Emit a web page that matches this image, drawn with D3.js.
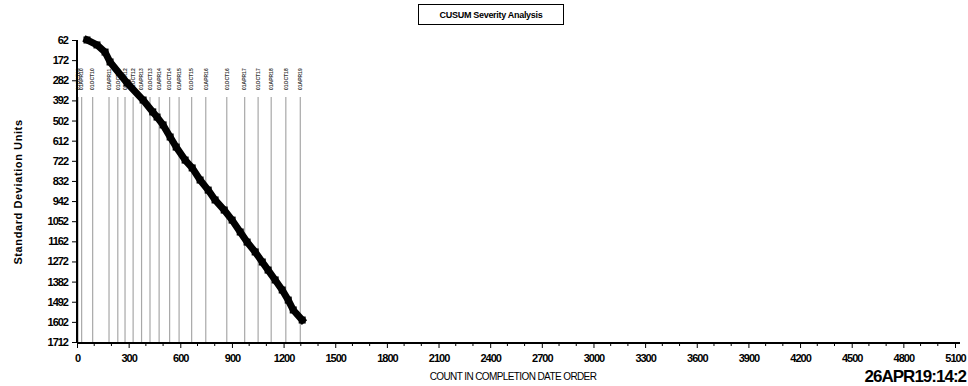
<!DOCTYPE html>
<html><head><meta charset="utf-8">
<script src="https://cdn.jsdelivr.net/npm/d3@7"></script>
<style>
html,body{margin:0;padding:0;background:#fff;}
svg{display:block;font-family:"Liberation Sans",Arial,sans-serif;}
</style></head>
<body>
<svg id="c" width="968" height="386"></svg>
<script>
const yTicks = [62,172,282,392,502,612,722,832,942,1052,1162,1272,1382,1492,1602,1712];
const xTicks = [0,300,600,900,1200,1500,1800,2100,2400,2700,3000,3300,3600,3900,4200,4500,4800,5100];
const refCounts = [6,27,91,186,237,279,326,375,424,477,538,593,666,748,870,974,1052,1128,1213,1297];
const refLabels = ["01OCT09","01APR10","01OCT10","01APR11","01OCT11","01APR12","01OCT12","01APR13","01OCT13","01APR14","01OCT14","01APR15","01OCT15","01APR16","01OCT16","01APR17","01OCT17","01APR18","01OCT18","01APR19"];
const cusumCount = [58,116,163,192,291,384,440,465,500,541,576,628,669,715,762,802,855,901,948,988,1035,1076,1110,1151,1192,1227,1256,1308];
const cusumValue = [62,89,128,182,297,390,455,483,526,592,647,718,761,827,882,936,991,1046,1111,1166,1220,1275,1319,1373,1428,1483,1537,1592];

const svg = d3.select("#c");
const x = d3.scaleLinear().domain([0,5100]).range([77,955]);
const y = d3.scaleLinear().domain([62,1712]).range([40,342]);
const axisY = 343;

// title box
svg.append("rect").attr("x",418.5).attr("y",4.5).attr("width",145).attr("height",20)
  .attr("fill","none").attr("stroke","#000").attr("stroke-width",1);
svg.append("text").attr("x",491).attr("y",18).attr("text-anchor","middle")
  .attr("font-size",9).attr("font-weight","bold").attr("letter-spacing","-0.3")
  .text("CUSUM Severity Analysis");

// reference lines
const refG = svg.append("g");
refCounts.forEach((c,i)=>{
  refG.append("line").attr("x1",x(c)).attr("x2",x(c)).attr("y1",97).attr("y2",axisY)
    .attr("stroke","#a8a8a8").attr("stroke-width",1.2);
  refG.append("text").attr("transform",`translate(${x(c)+1.8},90) rotate(-90)`)
    .attr("font-family","Liberation Sans,Arial,sans-serif")
    .attr("font-size",5).attr("font-weight","bold").attr("fill","#333").text(refLabels[i]);
});

// curve
const pts = cusumCount.map((c,i)=>[c,cusumValue[i]]);
const line = d3.line().x(d=>x(d[0])).y(d=>y(d[1]));
svg.append("path").datum(pts).attr("d",line).attr("fill","none")
  .attr("stroke","#000").attr("stroke-width",7).attr("stroke-linejoin","round").attr("stroke-linecap","square");
svg.append("g").selectAll("rect").data(pts).join("rect")
  .attr("x",d=>x(d[0])-3.5).attr("y",d=>y(d[1])-3.5).attr("width",7).attr("height",7).attr("fill","#000");

// y axis
const ya = svg.append("g").attr("transform","translate(77,0)")
  .call(d3.axisLeft(y).tickValues(yTicks).tickSize(5).tickPadding(4).tickFormat(d3.format("d")));
ya.select(".domain").attr("stroke-width",2).attr("d",`M0,${y(62)}V${axisY}`);
ya.selectAll("text").attr("font-size",11).attr("font-weight","bold").attr("letter-spacing","-1")
  .attr("font-family","Liberation Sans,Arial,sans-serif").attr("fill","#000");

// x axis
const xa = svg.append("g").attr("transform",`translate(0,${axisY})`)
  .call(d3.axisBottom(x).tickValues(xTicks).tickSize(5).tickPadding(6).tickFormat(d3.format("d")));
xa.select(".domain").attr("stroke-width",2).attr("d",`M77,0H960`);
xa.selectAll("text").attr("font-size",11).attr("font-weight","bold").attr("letter-spacing","-1")
  .attr("font-family","Liberation Sans,Arial,sans-serif").attr("fill","#000");
const minor = d3.range(0,5101,100).filter(v=>v%300!==0);
svg.append("g").selectAll("line").data(minor).join("line")
  .attr("x1",d=>x(d)).attr("x2",d=>x(d)).attr("y1",axisY).attr("y2",axisY+3)
  .attr("stroke","#000").attr("stroke-width",1);

// axis labels
svg.append("text").attr("transform","translate(22,192) rotate(-90)").attr("text-anchor","middle")
  .attr("font-size",11).attr("font-weight","bold").attr("letter-spacing","0.6").text("Standard Deviation Units");
svg.append("text").attr("x",513).attr("y",380).attr("text-anchor","middle")
  .attr("font-size",10).attr("letter-spacing","-0.6").text("COUNT IN COMPLETION DATE ORDER");
svg.append("text").attr("x",966).attr("y",382).attr("text-anchor","end")
  .attr("font-size",17).attr("font-weight","bold").attr("letter-spacing","-1").text("26APR19:14:2");
</script>
</body></html>
